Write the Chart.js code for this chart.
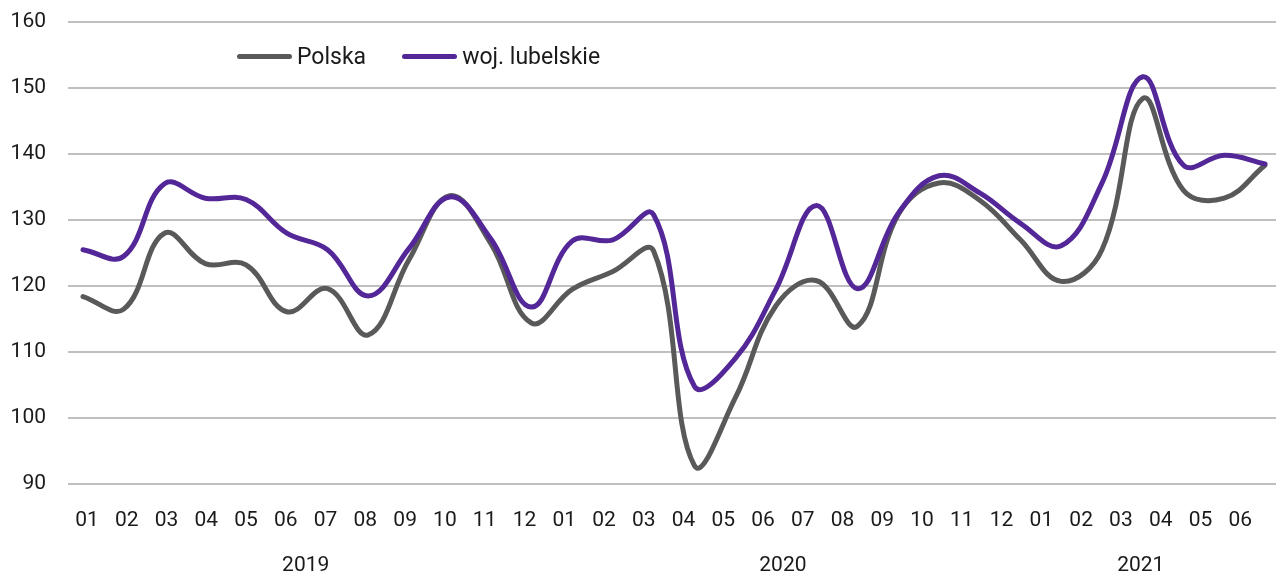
<!DOCTYPE html>
<html>
<head>
<meta charset="utf-8">
<script src="https://cdn.jsdelivr.net/npm/chart.js@4.4.1/dist/chart.umd.min.js"></script>
<style>
    body { margin: 0; background: #fff; }
    #wrap { position: relative; width: 1276px; height: 576px; }
    #legend { position: absolute; left: 237px; top: 43px; display: flex; font: 23px/27px Roboto, sans-serif; color: #1a1a1a; }
    .item { display: flex; align-items: center; margin-right: 36px; }
    .swatch { width: 55px; height: 5px; border-radius: 3px; margin-right: 5px; }
</style>
</head>
<body>
<div id="wrap">
    <canvas id="chart" width="1276" height="576"></canvas>
    <div id="legend"></div>
</div>
<script>
const monthLabels = [
    "01", "02", "03", "04", "05", "06", "07", "08", "09", "10", "11", "12",
    "01", "02", "03", "04", "05", "06", "07", "08", "09", "10", "11", "12",
    "01", "02", "03", "04", "05", "06"
];
const years = ["2019", "2020", "2021"];
const monthsPerYear = [12, 12, 6];

const polska = [
    118.4, 116.5, 128.0, 123.4, 123.2, 116.1, 119.6, 112.6, 124.0, 133.7, 126.5, 114.4,
    119.5, 122.2, 125.3, 92.8, 103.0, 117.0, 120.8, 113.9, 130.8, 135.6, 133.0, 127.0,
    120.7, 125.5, 148.4, 134.5, 133.3, 138.3
];
const lubelskie = [
    125.5, 124.5, 135.5, 133.3, 133.1, 128.0, 125.5, 118.5, 125.7, 133.5, 127.2, 116.8,
    126.8, 127.0, 130.8, 104.8, 109.0, 119.5, 132.2, 119.6, 131.0, 136.7, 134.1, 129.5,
    126.1, 135.6, 151.7, 138.3, 139.8, 138.5
];

const seriesNames = ["Polska", "woj. lubelskie"];
const seriesColors = ["#595959", "#532797"];

// legenda html dentro l'area del grafico
const legendEl = document.getElementById("legend");
seriesNames.forEach((name, i) => {
    const item = document.createElement("div");
    item.className = "item";
    item.innerHTML = '<span class="swatch" style="background:' + seriesColors[i] + '"></span>' + name;
    legendEl.appendChild(item);
});

// centro di ogni anno sull'asse dei mesi
const yearCenters = [];
let start = 0;
monthsPerYear.forEach(n => {
    yearCenters.push(start + (n - 1) / 2);
    start += n;
});

const font = { family: "Roboto, sans-serif", size: 21 };

new Chart(document.getElementById("chart"), {
    type: "line",
    data: {
        datasets: [
            {
                label: seriesNames[0],
                data: polska.map((v, i) => ({ x: i, y: v })),
                borderColor: seriesColors[0],
                borderWidth: 5,
                order: 2
            },
            {
                label: seriesNames[1],
                data: lubelskie.map((v, i) => ({ x: i, y: v })),
                borderColor: seriesColors[1],
                borderWidth: 5,
                order: 1
            }
        ]
    },
    options: {
        responsive: false,
        animation: false,
        layout: { padding: { top: 22, right: 0, left: 0, bottom: 0 } },
        elements: {
            point: { radius: 0 },
            line: { tension: 0.4, borderCapStyle: "round", borderJoinStyle: "round" }
        },
        plugins: {
            legend: { display: false },
            tooltip: { enabled: false }
        },
        scales: {
            x: {
                type: "linear",
                display: false,
                min: -0.368,
                max: 29.27
            },
            xm: {
                type: "linear",
                position: "bottom",
                weight: 0,
                min: -0.478,
                max: 29.9,
                grid: { display: false, drawTicks: false },
                border: { display: false },
                afterBuildTicks: s => { s.ticks = monthLabels.map((_, j) => ({ value: j })); },
                afterFit: s => { s.height = 60; s.paddingLeft = 0; s.paddingRight = 0; },
                ticks: {
                    autoSkip: false,
                    maxRotation: 0,
                    padding: 24,
                    color: "#1a1a1a",
                    font,
                    callback: v => monthLabels[v]
                }
            },
            xy: {
                type: "linear",
                position: "bottom",
                weight: 1,
                min: -0.478,
                max: 29.9,
                grid: { display: false, drawTicks: false },
                border: { display: false },
                afterBuildTicks: s => { s.ticks = yearCenters.map(c => ({ value: c })); },
                afterFit: s => { s.height = 32; s.paddingLeft = 0; s.paddingRight = 0; },
                ticks: {
                    autoSkip: false,
                    maxRotation: 0,
                    padding: 9,
                    color: "#1a1a1a",
                    font,
                    callback: (v, idx) => years[idx]
                }
            },
            y: {
                min: 90,
                max: 160,
                afterFit: s => { s.width = 68; s.paddingTop = 0; s.paddingBottom = 0; },
                border: { display: false },
                grid: { color: "#bfbfbf", lineWidth: 2, drawTicks: false },
                ticks: {
                    stepSize: 10,
                    padding: 22,
                    color: "#1a1a1a",
                    font
                }
            }
        }
    }
});
</script>
</body>
</html>
